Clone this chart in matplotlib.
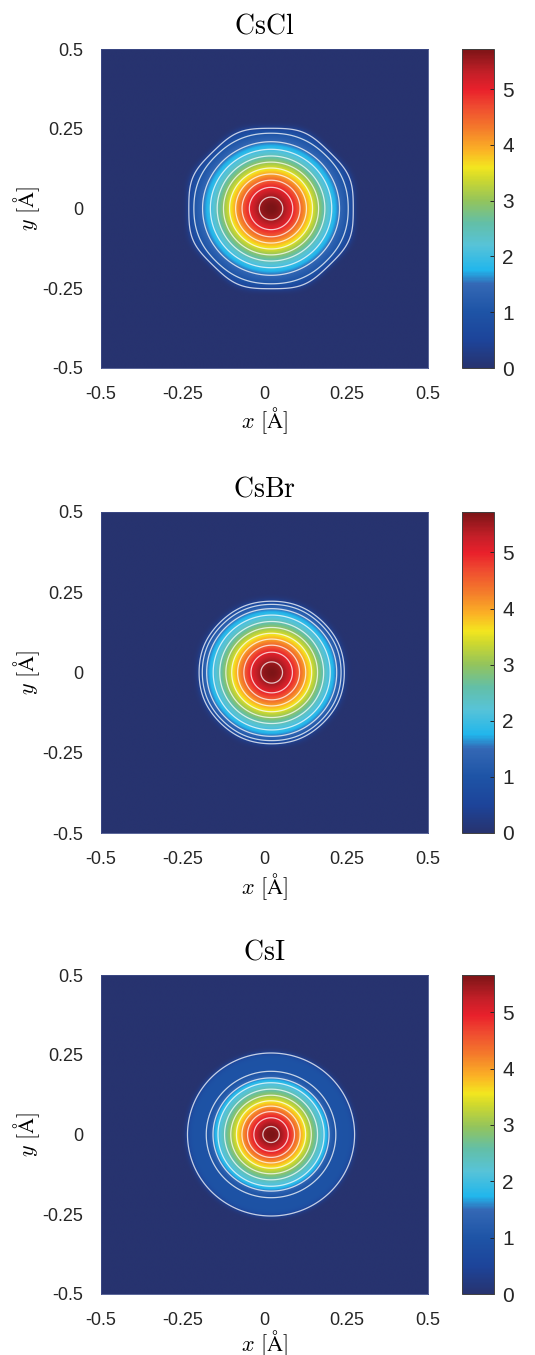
import numpy as np
import matplotlib
matplotlib.use('Agg')
import matplotlib.pyplot as plt
from matplotlib.colors import LinearSegmentedColormap

plt.rcParams['mathtext.fontset'] = 'cm'
plt.rcParams['font.family'] = ['Liberation Sans', 'DejaVu Sans']

# panels and the values (model parameters of each density map)
names = ['CsCl', 'CsBr', 'CsI']
vmax = [5.72, 5.72, 5.66]
x0 = [0.020, 0.022, 0.020]
y0 = [0.0, 0.0, 0.0]
core_amp = [5.72, 5.70, 4.71]
core_w = [0.181, 0.175, 0.135]
core_edge = [0.258, 0.221, 0.182]
core_soft = [0.006, 0.007, 0.007]
shelf_amp = [0.0, 0.0, 0.95]
shelf_edge = [0.258, 0.221, 0.256]
shelf_soft = [0.006, 0.007, 0.005]
warp8 = [-0.016, -0.004, 0.0]
warp4 = [0.0, 0.0, 0.0]
levels = [0.5, 1.0, 1.5, 2.0, 2.5, 3.0, 3.5, 4.0, 4.5, 5.0, 5.5]

ticks = [-0.5, -0.25, 0, 0.25, 0.5]
tick_txt = ['-0.5', '-0.25', '0', '0.25', '0.5']
cb_ticks = [0, 1, 2, 3, 4, 5]

# colormap nodes (value on a 0..5.72 scale, colour)
cm_val = [0.0, 0.5, 1.0, 1.5, 1.75, 2.2, 2.6, 3.0, 3.4, 3.6, 3.9, 4.3, 4.7, 5.0, 5.3, 5.72]
cm_col = ['#27336f', '#1d449a', '#1e54a6', '#3468b5', '#21b6ec', '#57c3d8', '#63bfa7',
          '#93c45c', '#d0d92d', '#f3e61f', '#fbb325', '#f47b2b', '#ef4a30', '#e9202b',
          '#c41f28', '#7c1416']
cmap = LinearSegmentedColormap.from_list(
    'dens', list(zip(np.array(cm_val) / cm_val[-1], cm_col)))

g = np.linspace(-0.5, 0.5, 601)
X, Y = np.meshgrid(g, g)


def sig(z):
    return 1.0 / (1.0 + np.exp(-z))


def field(i):
    dx = X - x0[i]
    dy = Y - y0[i]
    r = np.hypot(dx, dy)
    th = np.arctan2(dy, dx)
    s = (r / 0.25) ** 2
    re = r * (1 - warp8[i] * np.cos(8 * th) * s - warp4[i] * np.cos(4 * th) * s)
    core = core_amp[i] * np.exp(-(r / core_w[i]) ** 2) * sig((core_edge[i] - re) / core_soft[i])
    shelf = shelf_amp[i] * sig((shelf_edge[i] - re) / shelf_soft[i])
    return core + shelf


fig = plt.figure(figsize=(5.35, 13.55), dpi=100)
W, H = 535.0, 1355.0
tops = [49, 512, 975]
bots = [368, 833, 1294]
xlab_y = [-0.118, -0.118, -0.107]

for i in range(3):
    ax = fig.add_axes([101 / W, 1 - bots[i] / H, 327 / W, (bots[i] - tops[i]) / H])
    Z = field(i)
    im = ax.imshow(Z, extent=[-0.5, 0.5, -0.5, 0.5], origin='lower', cmap=cmap,
                   vmin=0, vmax=vmax[i], interpolation='bilinear', aspect='auto')
    ax.contour(X, Y, Z, levels=levels, colors='white', linewidths=0.9, alpha=0.75)
    ax.set_xlim(-0.5, 0.5)
    ax.set_ylim(-0.5, 0.5)
    ax.set_xticks(ticks)
    ax.set_xticklabels(tick_txt)
    ax.set_yticks(ticks)
    ax.set_yticklabels(tick_txt)
    ax.tick_params(length=0, pad=13, labelsize=13, colors='#262626')
    for sp in ax.spines.values():
        sp.set_color('#3d4a86')
        sp.set_linewidth(0.6)
    ax.set_title(r'$\mathrm{' + names[i] + '}$', fontsize=20, pad=11)
    ax.set_xlabel(r'$x\ [\mathrm{Å}]$', fontsize=16)
    ax.set_ylabel(r'$y\ [\mathrm{Å}]$', fontsize=16)
    ax.xaxis.set_label_coords(0.5, xlab_y[i])
    ax.yaxis.set_label_coords(-0.18, 0.5)

    cax = fig.add_axes([462 / W, 1 - bots[i] / H, 32 / W, (bots[i] - tops[i]) / H])
    cb = fig.colorbar(im, cax=cax)
    cb.set_ticks(cb_ticks)
    cb.outline.set_edgecolor('#404040')
    cb.outline.set_linewidth(0.7)
    cax.tick_params(direction='in', length=3, width=0.7, pad=6, labelsize=15,
                    colors='#262626')

plt.savefig('out.png', dpi=100)
